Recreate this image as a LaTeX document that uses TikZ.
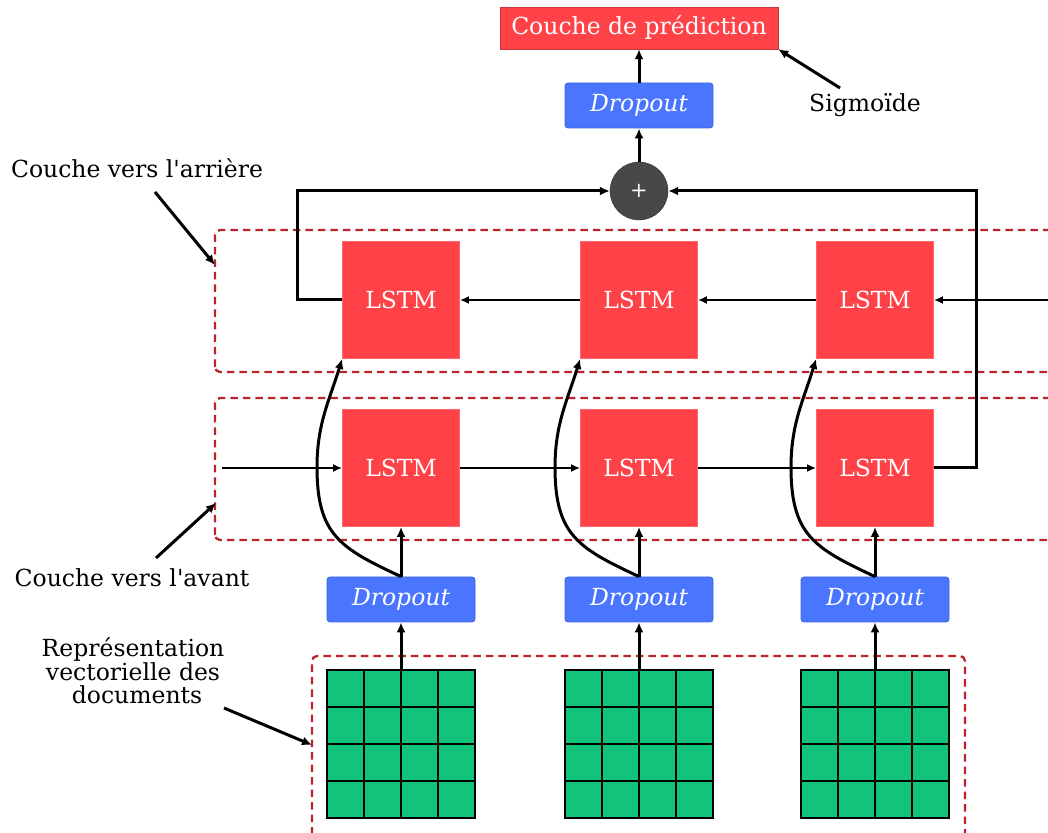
\documentclass[tikz,border=0pt]{standalone}
\usepackage{fontspec}
\setmainfont{DejaVu Serif}
\usetikzlibrary{arrows.meta,positioning}

\definecolor{rougelstm}{RGB}{255,66,72}
\definecolor{bleudrop}{RGB}{74,118,255}
\definecolor{vertdoc}{RGB}{18,196,122}
\definecolor{rougezone}{RGB}{186,36,42}
\definecolor{grisplus}{RGB}{72,72,72}

\tikzset{
  lstm/.style={rectangle,fill=rougelstm,draw=rougelstm!80!white,line width=.8pt,minimum size=117pt,text=white},
  drop/.style={rectangle,rounded corners=3pt,fill=bleudrop,draw=bleudrop!85!black,line width=.8pt,minimum width=148pt,minimum height=45pt,text=white,font=\fontsize{23.5}{28}\selectfont\itshape},
  zone/.style={draw=rougezone,line width=2.3pt,dash pattern=on 7.5pt off 5pt,rounded corners=5pt},
  fl/.style={-{Latex[length=9pt,width=8pt]},line width=2pt},
  ep/.style={-{Latex[length=10pt,width=9pt]},line width=3pt},
}

\begin{document}
\begin{tikzpicture}[x=1pt,y=1pt,font=\fontsize{23.5}{28}\selectfont]
\useasboundingbox (0,0) rectangle (1048,832);
\clip (0,0) rectangle (1048,832);

% zones
\draw[zone] (215,460) rectangle (1070,602);
\draw[zone] (215,292) rectangle (1070,434);
\draw[zone] (312,-20) rectangle (965,176);

% sortie
\node[rectangle,fill=rougelstm,draw=rougelstm!80!black,minimum width=278pt,minimum height=42pt,text=white] (pred) at (639,804) {Couche de prédiction};
\node[drop] (dh) at (639,726.5) {Dropout};
\node[circle,fill=grisplus,draw=grisplus!70!black,minimum size=58pt,text=white,font=\fontsize{21}{21}\selectfont] (plus) at (639,641) {+};
\node (sig) at (865,727) {Sigmoïde};
\coordinate (s) at (840,744);

\foreach \x/\i in {401/1,639/2,875/3} {
  \node[lstm] (b\i) at (\x,532) {LSTM};
  \node[lstm] (f\i) at (\x,364) {LSTM};
  \node[drop] (d\i) at (\x,232.5) {Dropout};
  \begin{scope}[shift={(\x-74,14)}]
    \draw[fill=vertdoc,line width=2pt] (0,0) rectangle (148,148);
    \draw[line width=2pt] (0,0) grid[step=37] (148,148);
  \end{scope}
  \coordinate (g\i) at (\x,162);
  \draw[ep] (g\i) -- (d\i.south);
  \draw[ep] (d\i.north) -- (f\i.south);
  \draw[ep] (d\i.north) to[out=155,in=-90,looseness=1.25] ++(-84,109.5) to[out=90,in=253] (b\i.south west);
}

% couches
\coordinate (fin) at (222,364);
\coordinate (bin) at (1060,532);
\draw[fl] (fin) -- (f1);
\draw[fl] (f1) -- (f2);
\draw[fl] (f2) -- (f3);
\draw[fl] (bin) -- (b3);
\draw[fl] (b3) -- (b2);
\draw[fl] (b2) -- (b1);
\draw[ep] (f3.east) -- ++(43,0) |- (plus.east);
\draw[ep] (b1.west) -- ++(-45,0) |- (plus.west);
\draw[ep] (plus) -- (dh);
\draw[ep] (dh) -- (pred);
\draw[ep] (s) -- (pred.south east);

% etiquettes
\node (arr) at (137,664) {Couche vers l\textquotesingle arrière};
\coordinate (a1) at (155,640);
\coordinate (a2) at (215,567);
\draw[ep] (a1) -- (a2);
\node (av) at (132,254) {Couche vers l\textquotesingle avant};
\coordinate (v1) at (156,274);
\coordinate (v2) at (216,329);
\draw[ep] (v1) -- (v2);
\node[align=center,font=\fontsize{23.5}{23.5}\selectfont] (rep) at (133,161) {Représentation\\vectorielle des\\\hspace*{8pt}documents};
\coordinate (r1) at (224,124);
\coordinate (r2) at (312,87);
\draw[ep] (r1) -- (r2);

\end{tikzpicture}
\end{document}
